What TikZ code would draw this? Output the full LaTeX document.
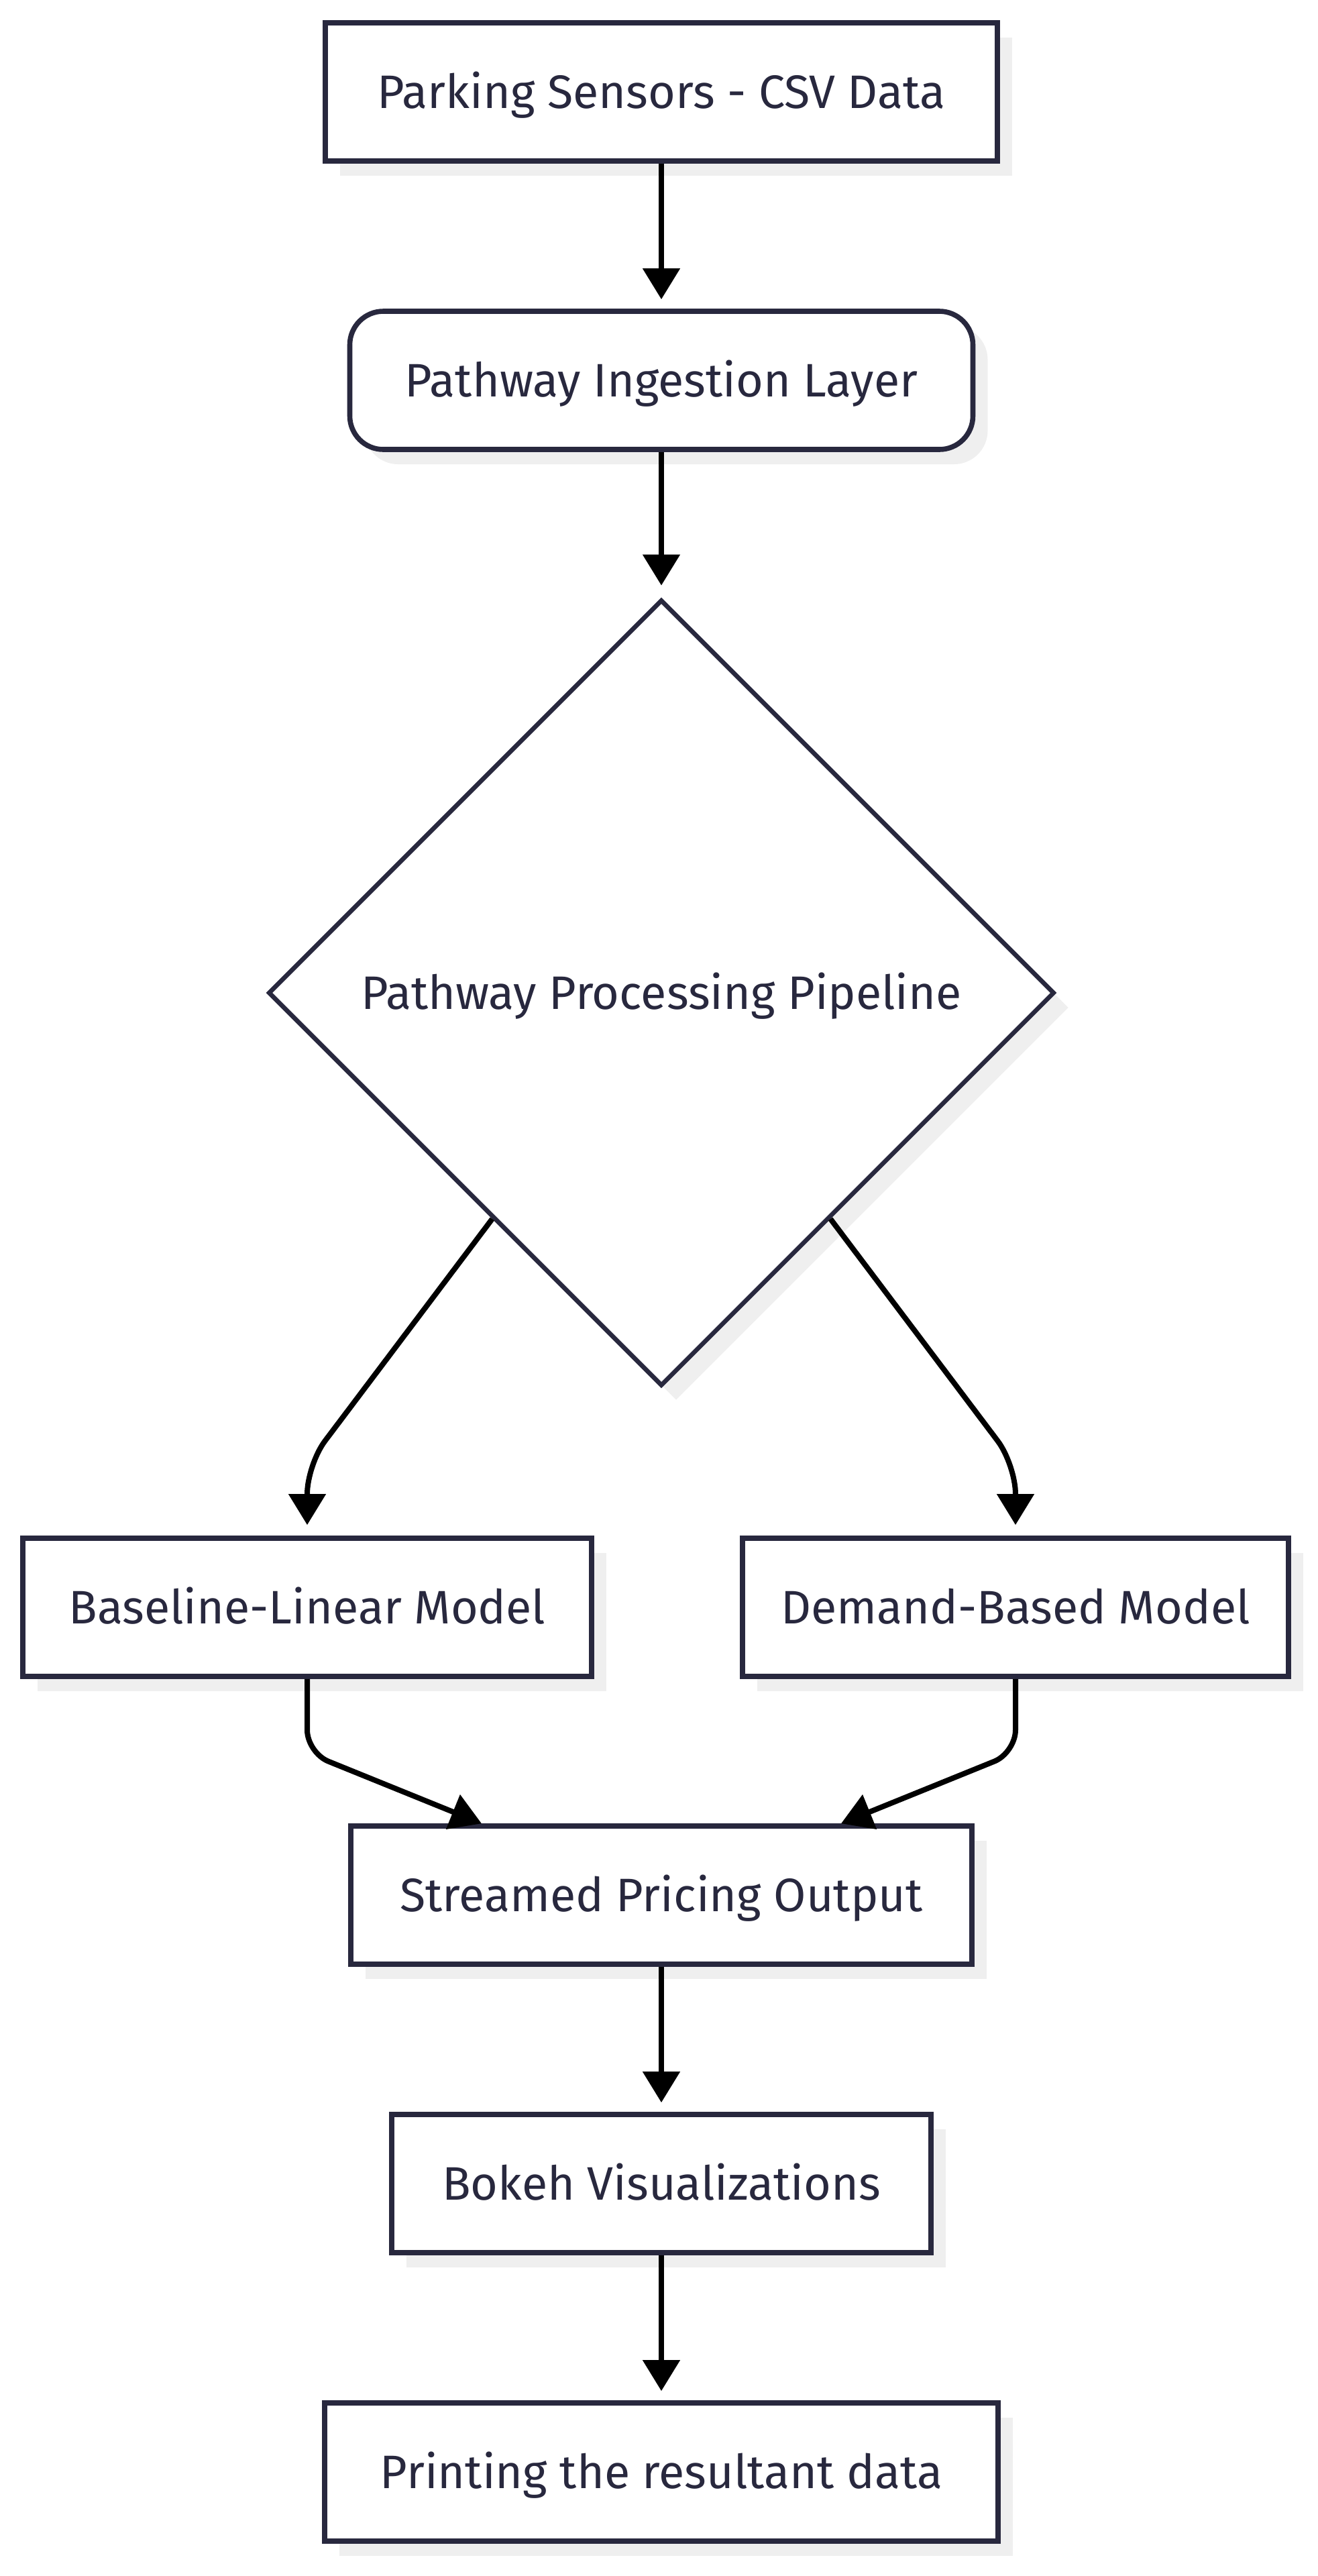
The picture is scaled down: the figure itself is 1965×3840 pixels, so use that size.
\documentclass[tikz,border=0pt]{standalone}
\usepackage{fontspec}
\setmainfont{Fira Sans}
\usetikzlibrary{arrows.meta,shapes.geometric,shadows,calc}
\definecolor{navy}{HTML}{28283E}
\definecolor{shadowc}{HTML}{EFEFEF}
\tikzset{
  box/.style={draw=navy, line width=3.8pt, fill=white, text=navy,
    font=\fontsize{35}{42}\selectfont, text height=24pt, text depth=0pt,
    inner sep=0pt, minimum height=103pt,
    drop shadow={shadow xshift=11pt, shadow yshift=-11pt, fill=shadowc, opacity=1}},
  decision/.style={draw=navy, line width=3.3pt, fill=white, text=navy, diamond, aspect=1,
    font=\fontsize{35}{42}\selectfont, text height=24pt, text depth=0pt,
    inner sep=0pt, minimum size=586pt,
    drop shadow={shadow xshift=11pt, shadow yshift=-11pt, fill=shadowc, opacity=1}},
  conn/.style={draw=black, line width=4pt, -{Triangle[length=23pt,width=27pt]}},
}
\begin{document}
\begin{tikzpicture}[x=0.5pt,y=-0.5pt]
\useasboundingbox (0,0) rectangle (1965,3840);
\node[box, minimum width=501pt] (b1) at (986,137) {Parking Sensors - CSV Data};
\node[box, minimum width=464.5pt, rounded corners=25pt] (b2) at (986,567) {Pathway Ingestion Layer};
\node[decision] (d) at (986,1480) {Pathway Processing Pipeline};
\node[box, minimum width=424pt] (bl) at (458,2396) {Baseline-Linear Model};
\node[box, minimum width=407pt] (dm) at (1514,2396) {Demand-Based Model};
\node[box, minimum width=463pt] (st) at (986,2825) {Streamed Pricing Output};
\node[box, minimum width=402pt] (bk) at (986,3255) {Bokeh Visualizations};
\node[box, minimum width=502pt] (pr) at (986,3685) {Printing the resultant data};

\coordinate (dl) at ($(d.west)!0.572!(d.south)$);
\coordinate (dr) at ($(d.east)!0.572!(d.south)$);

\draw[conn, shorten >=7pt] (b1.south) -- (b2.north);
\draw[conn, shorten >=9pt] (b2.south) -- (d.north);
\draw[conn, shorten >=8pt, rounded corners=22pt] (dl) -- ([yshift=53pt]bl.north) -- (bl.north);
\draw[conn, shorten >=8pt, rounded corners=22pt] (dr) -- ([yshift=53pt]dm.north) -- (dm.north);
\draw[conn, rounded corners=17pt] (bl.south) -- ([yshift=-55pt]bl.south) -- ([xshift=-134pt]st.north);
\draw[conn, rounded corners=17pt] (dm.south) -- ([yshift=-55pt]dm.south) -- ([xshift=134pt]st.north);
\draw[conn, shorten >=7pt] (st.south) -- (bk.north);
\draw[conn, shorten >=7pt] (bk.south) -- (pr.north);
\end{tikzpicture}
\end{document}
